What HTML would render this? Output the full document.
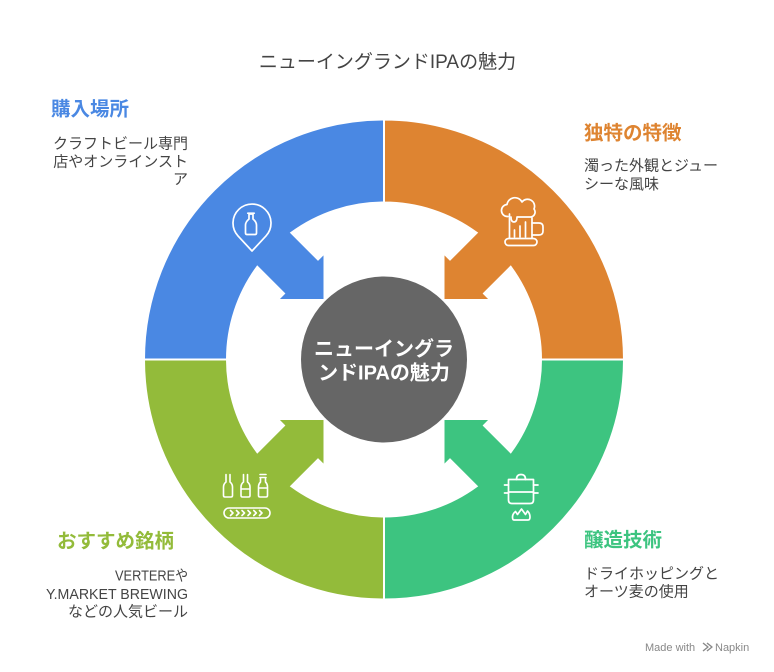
<!DOCTYPE html>
<html>
<head>
<meta charset="utf-8">
<style>
  html,body{margin:0;padding:0;background:#fff;}
  body{width:774px;height:672px;overflow:hidden;}
  svg{display:block;}
  text{font-family:"Liberation Sans","Noto Sans CJK JP",sans-serif;}
</style>
</head>
<body>
<svg width="774" height="672" viewBox="0 0 774 672" xmlns="http://www.w3.org/2000/svg">
  <rect width="774" height="672" fill="#fff"/>

  <!-- Title -->
  <text x="387.5" y="68" font-size="19" fill="#444" text-anchor="middle">ニューイングランドIPAの魅力</text>

  <g transform="translate(384 359.5)">
    <circle cx="0" cy="0" r="83" fill="#666666"/>
    <g stroke="#fff" stroke-width="2" stroke-linejoin="miter">
      <path fill="#4A88E3" d="M-240,0 A240,240 0 0 1 0,-240 L0,-157 A157,157 0 0 0 -92.7,-126.7 L-66,-100 L-59.5,-106.5 L-59.5,-59.5 L-106.5,-59.5 L-100,-66 L-126.7,-92.7 A157,157 0 0 0 -157,0 Z"/>
      <path fill="#DE8431" transform="scale(-1 1)" d="M-240,0 A240,240 0 0 1 0,-240 L0,-157 A157,157 0 0 0 -92.7,-126.7 L-66,-100 L-59.5,-106.5 L-59.5,-59.5 L-106.5,-59.5 L-100,-66 L-126.7,-92.7 A157,157 0 0 0 -157,0 Z"/>
      <path fill="#93BB3A" transform="scale(1 -1)" d="M-240,0 A240,240 0 0 1 0,-240 L0,-157 A157,157 0 0 0 -92.7,-126.7 L-66,-100 L-59.5,-106.5 L-59.5,-59.5 L-106.5,-59.5 L-100,-66 L-126.7,-92.7 A157,157 0 0 0 -157,0 Z"/>
      <path fill="#3DC480" transform="scale(-1 -1)" d="M-240,0 A240,240 0 0 1 0,-240 L0,-157 A157,157 0 0 0 -92.7,-126.7 L-66,-100 L-59.5,-106.5 L-59.5,-59.5 L-106.5,-59.5 L-100,-66 L-126.7,-92.7 A157,157 0 0 0 -157,0 Z"/>
    </g>
  </g>

  <!-- Center text -->
  <text x="384" y="355.6" font-size="20" font-weight="bold" fill="#fff" text-anchor="middle">ニューイングラ</text>
  <text x="384" y="379.6" font-size="20" font-weight="bold" fill="#fff" text-anchor="middle">ンドIPAの魅力</text>

  <!-- Icon: pin with bottle (blue) -->
  <g fill="none" stroke="#fff" stroke-width="1.7" stroke-linejoin="round" stroke-linecap="round">
    <path d="M252,251 L238,235.9 A19,19 0 1 1 266,235.9 Z"/>
    <path d="M249,214 L249,219 Q245.5,222 245.5,225 L245.5,233 Q245.5,234.5 247,234.5 L255,234.5 Q256.5,234.5 256.5,233 L256.5,225 Q256.5,222 253,219 L253,214 Z"/>
    <path d="M247.8,213.2 L254.2,213.2"/>
  </g>

  <!-- Icon: beer mug (orange) -->
  <g fill="none" stroke="#fff" stroke-width="1.7" stroke-linejoin="round" stroke-linecap="round">
    <path d="M508,216.5 A6,6 0 0 1 507,204.5 A8,8 0 0 1 522,202 A7,7 0 0 1 534,209 A5,5 0 0 1 531,217 L517,217 Q517,222 514,222 Q511,222 511,217"/>
    <path d="M509.5,214 L509.5,238 M532,218 L532,238"/>
    <path d="M532,223 L539,223 Q543,223 543,227 L543,231 Q543,235 539,235 L532,235"/>
    <rect x="505" y="238.5" width="32" height="7" rx="3.5"/>
    <path d="M514.5,230 L514.5,237 M520,226 L520,237 M525.5,222 L525.5,237"/>
  </g>

  <!-- Icon: bottles on conveyor (yellow-green) -->
  <g fill="none" stroke="#fff" stroke-width="1.6" stroke-linejoin="round" stroke-linecap="round">
    <path d="M226,474.5 L226,482 Q223.5,484 223.5,487 L223.5,495.5 Q223.5,497 225,497 L231,497 Q232.5,497 232.5,495.5 L232.5,487 Q232.5,484 230,482 L230,474.5"/>
    <path d="M243.5,474.5 L243.5,482 Q241,484 241,487 L241,495.5 Q241,497 242.5,497 L248.5,497 Q250,497 250,495.5 L250,487 Q250,484 247.5,482 L247.5,474.5 M241,489 L250,489"/>
    <path d="M260,474.5 L266,474.5 M260,477.5 L266,477.5 M260.5,477.5 L260.5,482 Q258.5,484 258.5,487 L258.5,495.5 Q258.5,497 260,497 L266,497 Q267.5,497 267.5,495.5 L267.5,487 Q267.5,484 265.5,482 L265.5,477.5 M258.5,488 L267.5,488"/>
    <rect x="224" y="508" width="46" height="10" rx="5"/>
    <path d="M230.5,510.5 L233,513 L230.5,515.5 M236.5,510.5 L239,513 L236.5,515.5 M242,510.5 L244.5,513 L242,515.5 M248,510.5 L250.5,513 L248,515.5 M253.8,510.5 L256.3,513 L253.8,515.5 M259.5,510.5 L262,513 L259.5,515.5"/>
  </g>

  <!-- Icon: pot on flame (green) -->
  <g fill="none" stroke="#fff" stroke-width="1.7" stroke-linejoin="round" stroke-linecap="round">
    <path d="M516.5,479.5 Q516.5,474.5 521,474.5 Q525.5,474.5 525.5,479.5"/>
    <path d="M508.5,479.5 L533.5,479.5 L533.5,500 Q533.5,503.5 530,503.5 L512,503.5 Q508.5,503.5 508.5,500 Z"/>
    <path d="M508.5,492 L533.5,492"/>
    <path d="M504.5,485 L508.5,485 M533.5,485 L538,485 M504.5,493 L508.5,493 M533.5,493 L538,493"/>
    <path d="M514,520 L528,520 Q530,520 530,517 Q530,513.5 527.5,511 L525.5,514.5 L521.5,509 L517.5,514.5 L515.5,511.5 Q512.5,514 512.5,517 Q512.5,520 514,520 Z"/>
  </g>

  <!-- Labels -->
  <text x="51" y="115.6" font-size="19.5" font-weight="bold" fill="#4A88E3">購入場所</text>
  <g font-size="15" fill="#444" text-anchor="end">
    <text x="188" y="148.7">クラフトビール専門</text>
    <text x="188" y="166.4">店やオンラインスト</text>
    <text x="188" y="184">ア</text>
  </g>

  <text x="584" y="139.3" font-size="19.5" font-weight="bold" fill="#DE8431">独特の特徴</text>
  <g font-size="15" fill="#444">
    <text x="584" y="170.7">濁った外観とジュー</text>
    <text x="584" y="189.2">シーな風味</text>
  </g>

  <text x="57" y="547.6" font-size="19.5" font-weight="bold" fill="#93BB3A">おすすめ銘柄</text>
  <g font-size="15" fill="#444">
    <text x="115" y="580.7" textLength="73" lengthAdjust="spacingAndGlyphs">VERTEREや</text>
    <text x="46" y="598.9" textLength="142" lengthAdjust="spacingAndGlyphs">Y.MARKET BREWING</text>
    <text x="188" y="616.7" text-anchor="end">などの人気ビール</text>
  </g>

  <text x="584" y="546.6" font-size="19.5" font-weight="bold" fill="#3DC480">醸造技術</text>
  <g font-size="15" fill="#444">
    <text x="584" y="578.7">ドライホッピングと</text>
    <text x="584" y="596.7">オーツ麦の使用</text>
  </g>

  <!-- Footer -->
  <text x="645" y="651" font-size="11" fill="#888">Made with</text>
  <path d="M703,643 L708,647 L703,651 M707,643 L712,647 L707,651" fill="none" stroke="#888" stroke-width="1.4" stroke-linejoin="round"/>
  <text x="715" y="651" font-size="11" fill="#888">Napkin</text>
</svg>
</body>
</html>
